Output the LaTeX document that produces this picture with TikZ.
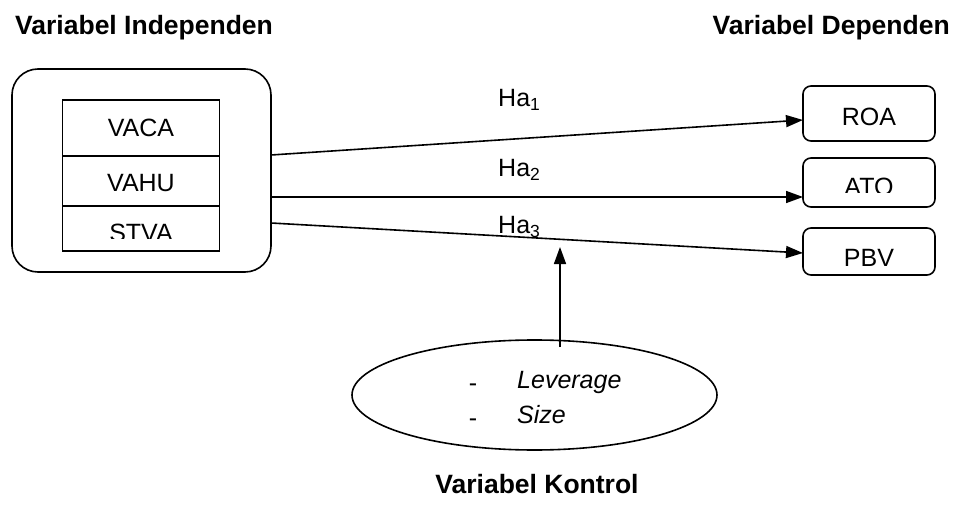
\documentclass[tikz,border=0pt]{standalone}
\usepackage{fontspec}
\setmainfont{Liberation Sans}
\usetikzlibrary{arrows.meta,shapes.geometric}
\begin{document}
\begin{tikzpicture}[x=1pt,y=-1pt,
  ln/.style={line width=1.6pt},
  arr/.style={ln,-{Triangle[length=17pt,width=12pt]}},
  txt/.style={inner sep=0pt,font=\fontsize{25}{28}\selectfont},
  ttl/.style={inner sep=0pt,font=\fontsize{26.5}{30}\selectfont\bfseries},
  dep/.style={draw,ln,rounded corners=8pt,minimum width=132pt,inner sep=0pt}]
\useasboundingbox (0,0) rectangle (954,508);
% titles
\node[ttl,anchor=base west] (ti) at (15,35) {Variabel Independen};
\node[ttl,anchor=base east] (td) at (950,35) {Variabel Dependen};
\node[ttl,anchor=base] (tk) at (537,493) {Variabel Kontrol};
% outer box
\node[draw,ln,rounded corners=26pt,minimum width=259pt,minimum height=203pt,inner sep=0pt] (outer) at (141.5,170.5) {};
% inner cells
\node[draw,ln,minimum width=157pt,minimum height=56pt,inner sep=0pt] (vaca) at (141,128) {};
\node[draw,ln,minimum width=157pt,minimum height=50pt,inner sep=0pt] (vahu) at (141,181) {};
\node[draw,ln,minimum width=157pt,minimum height=45pt,inner sep=0pt] (stva) at (141,228.5) {};
\node[txt] (vacat) at (141,128) {VACA};
\node[txt] (vahut) at (141,183) {VAHU};
\begin{scope}
\clip (62,200) rectangle (220,238);
\node[txt] (stvat) at (141,233) {STVA};
\end{scope}
% dependent boxes
\node[dep,minimum height=55pt] (roa) at (869,113.5) {};
\node[txt] (roat) at (869,117) {ROA};
\node[dep,minimum height=49pt] (ato) at (869,182.5) {};
\begin{scope}
\clip (803,150) rectangle (935,193);
\node[txt] (atot) at (869,187) {ATO};
\end{scope}
\node[dep,minimum height=47pt] (pbv) at (869,251.5) {};
\node[txt] (pbvt) at (869,258) {PBV};
% arrows
\coordinate (s1) at (271,155);
\coordinate (s2) at (271,197);
\coordinate (s3) at (271,223);
\coordinate (e1) at (803,120);
\coordinate (e2) at (803,197);
\coordinate (e3) at (803,253);
\draw[arr] (s1) -- (e1);
\draw[arr] (s2) -- (e2);
\draw[arr] (s3) -- (e3);
\node[txt,anchor=west] (h1) at (498,100) {Ha\textsubscript{1}};
\node[txt,anchor=west] (h2) at (498,170) {Ha\textsubscript{2}};
\node[txt,anchor=west] (h3) at (498,227) {Ha\textsubscript{3}};
% control ellipse
\node[draw,ln,ellipse,minimum width=365pt,minimum height=110pt,inner sep=0pt] (ctl) at (534.5,395) {};
\node[txt,anchor=base] (d1) at (473,391) {-};
\node[txt,anchor=base] (d2) at (473,426) {-};
\node[txt,anchor=base west] (lev) at (517,388) {\itshape Leverage};
\node[txt,anchor=base west] (siz) at (517,423) {\itshape Size};
\coordinate (cb) at (560,347);
\coordinate (ct) at (560,247);
\draw[arr] (cb) -- (ct);
\end{tikzpicture}
\end{document}
